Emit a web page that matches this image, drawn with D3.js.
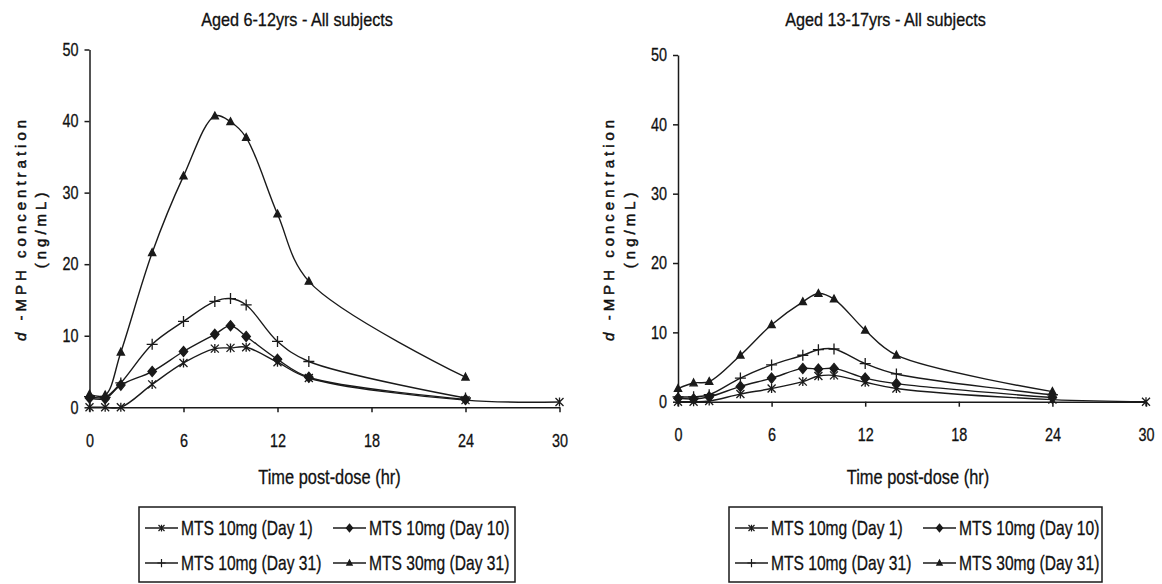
<!DOCTYPE html>
<html>
<head>
<meta charset="utf-8">
<script src="https://cdn.jsdelivr.net/npm/d3@7"></script>
<style>
  body { margin: 0; background: #fff; }
  svg { display: block; }
  text { font-family: "Liberation Sans", Arial, sans-serif; fill: #111; stroke: #111; stroke-width: 0.3px; }
</style>
</head>
<body>
<svg id="chart" width="1162" height="584"></svg>
<script>
// Sampling times (hours post-dose)
const hours = [0, 1, 2, 4, 6, 8, 9, 10, 12, 14, 24, 30];
const xTicks = [0, 6, 12, 18, 24, 30];
const yTicks = [0, 10, 20, 30, 40, 50];
const seriesNames = ["MTS 10mg (Day 1)", "MTS 10mg (Day 10)", "MTS 10mg (Day 31)", "MTS 30mg (Day 31)"];
const markerTypes = ["star", "diamond", "plus", "triangle"];
const panelTitles = ["Aged 6-12yrs - All subjects", "Aged 13-17yrs - All subjects"];

// Mean d-MPH concentration (ng/mL), aged 6-12 years
const child10mgDay1  = [0, 0, 0, 3.2, 6.2, 8.2, 8.3, 8.4, 6.3, 4.1, 1.0, 0.75];
const child10mgDay10 = [1.3, 1.2, 3.1, 5.0, 7.8, 10.2, 11.4, 9.9, 6.7, 4.2, 1.1];
const child10mgDay31 = [1.5, 1.4, 3.4, 8.8, 12.0, 14.8, 15.2, 14.3, 9.2, 6.4, 1.3];
const child30mgDay31 = [1.8, 1.7, 7.7, 21.6, 32.3, 40.7, 39.9, 37.7, 27.0, 17.6, 4.2];

// Mean d-MPH concentration (ng/mL), aged 13-17 years
const teen10mgDay1  = [0, 0, 0.1, 1.1, 1.9, 2.9, 3.7, 3.8, 2.8, 1.9, 0.3, 0];
const teen10mgDay10 = [0.5, 0.4, 0.7, 2.2, 3.4, 4.8, 4.7, 4.8, 3.4, 2.6, 0.6];
const teen10mgDay31 = [0.7, 0.7, 1.0, 3.4, 5.3, 6.7, 7.5, 7.6, 5.5, 4.0, 1.0];
const teen30mgDay31 = [1.9, 2.7, 2.9, 6.7, 11.1, 14.4, 15.6, 14.8, 10.3, 6.7, 1.45];

const panels = [
  { title: panelTitles[0], series: [child10mgDay1, child10mgDay10, child10mgDay31, child30mgDay31],
    x0: 89.5, x1: 559.5, yBottom: 407.3, yTop: 49.5, legendX: 139, legendW: 376 },
  { title: panelTitles[1], series: [teen10mgDay1, teen10mgDay10, teen10mgDay31, teen30mgDay31],
    x0: 678, x1: 1146, yBottom: 401.7, yTop: 55, legendX: 729, legendW: 373 }
];

const ink = "#1a1a1a";
const svg = d3.select("#chart");

// Condensed glyphs: horizontally squeeze a text element around its anchor
function squeeze(sel, sx) {
  sel.each(function () {
    const t = d3.select(this);
    const x = +(t.attr("x") || 0);
    t.attr("transform", `translate(${x},0) scale(${sx},1)`).attr("x", 0);
  });
}

function markerPath(type, s) {
  switch (type) {
    case "star":
      return `M${-4*s},${-4*s}L${4*s},${4*s}M${-4*s},${4*s}L${4*s},${-4*s}M0,${-4.5*s}V${4.5*s}`;
    case "diamond":
      return `M0,${-5*s}L${4.2*s},0L0,${5*s}L${-4.2*s},0Z`;
    case "plus":
      return `M${-5.5*s},0H${5.5*s}M0,${-5.5*s}V${5.5*s}`;
    case "triangle":
      return `M0,${-4*s}L${3.6*s},${2.8*s}L${-3.6*s},${2.8*s}Z`;
  }
}
function markerFilled(type) { return type === "diamond" || type === "triangle"; }

panels.forEach(p => {
  const x = d3.scaleLinear().domain([0, 30]).range([p.x0, p.x1]);
  const y = d3.scaleLinear().domain([0, 50]).range([p.yBottom, p.yTop]);
  const g = svg.append("g");

  // Title
  g.append("text")
    .attr("transform", `translate(${p.x0 + 207.5},26) scale(0.9,1)`)
    .attr("text-anchor", "middle")
    .style("font-size", "18px")
    .text(p.title);

  // Y axis
  const ya = g.append("g")
    .attr("transform", `translate(${p.x0},0)`)
    .call(d3.axisLeft(y).tickValues(yTicks).tickFormat(d3.format("d"))
      .tickSize(5).tickPadding(6).tickSizeOuter(0));
  ya.selectAll("path, line").attr("stroke", ink).attr("stroke-width", 1.5);
  ya.selectAll("text").style("font-size", "18px").attr("fill", ink).call(squeeze, 0.8);

  // X axis
  const xa = g.append("g")
    .attr("transform", `translate(0,${p.yBottom})`)
    .call(d3.axisBottom(x).tickValues(xTicks).tickFormat(d3.format("d"))
      .tickSize(5).tickPadding(22).tickSizeOuter(0));
  xa.selectAll("path, line").attr("stroke", ink).attr("stroke-width", 1.5);
  xa.selectAll("text").style("font-size", "18px").attr("fill", ink).call(squeeze, 0.8);

  // X axis title
  g.append("text")
    .attr("transform", `translate(${p.x0 + 240},484) scale(0.8,1)`)
    .attr("text-anchor", "middle")
    .style("font-size", "20.5px")
    .text("Time post-dose (hr)");

  // Y axis title (two lines, rotated)
  const yMid = (p.yBottom + p.yTop) / 2;
  const yt1 = g.append("text")
    .attr("transform", `translate(${p.x0 - 64},${yMid}) rotate(-90)`)
    .attr("text-anchor", "middle")
    .style("font-size", "15px")
    .style("letter-spacing", "4px")
    .style("stroke-width", "0.5px");
  yt1.append("tspan").style("font-style", "italic").text("d");
  yt1.append("tspan").text(" -MPH concentration");
  g.append("text")
    .attr("transform", `translate(${p.x0 - 43.5},${yMid}) rotate(-90)`)
    .attr("text-anchor", "middle")
    .style("font-size", "15px")
    .style("letter-spacing", "4px")
    .style("stroke-width", "0.5px")
    .text("(ng/mL)");

  // Series lines and markers
  const line = d3.line()
    .x(d => x(d.t)).y(d => y(d.v))
    .curve(d3.curveCatmullRom.alpha(0.5));

  p.series.forEach((vals, i) => {
    const pts = vals.map((v, k) => ({ t: hours[k], v }));
    g.append("path")
      .datum(pts)
      .attr("d", line)
      .attr("fill", "none")
      .attr("stroke", ink)
      .attr("stroke-width", 1.4);
    const type = markerTypes[i];
    g.selectAll(null)
      .data(pts)
      .join("path")
      .attr("transform", d => `translate(${x(d.t)},${y(d.v)})`)
      .attr("d", markerPath(type, 1))
      .attr("fill", markerFilled(type) ? ink : "none")
      .attr("stroke", ink)
      .attr("stroke-width", 1.3);
  });

  // Legend
  const lg = g.append("g").attr("transform", `translate(${p.legendX},507)`);
  lg.append("rect")
    .attr("x", 0).attr("y", 0)
    .attr("width", p.legendW).attr("height", 75)
    .attr("fill", "none").attr("stroke", ink).attr("stroke-width", 1.5);
  seriesNames.forEach((name, i) => {
    const col = i % 2, row = Math.floor(i / 2);
    const lx = col === 0 ? 6 : 194;
    const ly = row === 0 ? 21 : 56;
    const item = lg.append("g").attr("transform", `translate(${lx},${ly})`);
    item.append("line").attr("x1", 0).attr("x2", 33).attr("y1", 0).attr("y2", 0)
      .attr("stroke", ink).attr("stroke-width", 1.4);
    const type = markerTypes[i];
    item.append("path")
      .attr("transform", "translate(16.5,0)")
      .attr("d", markerPath(type, 0.75))
      .attr("fill", markerFilled(type) ? ink : "none")
      .attr("stroke", ink).attr("stroke-width", 1.2);
    item.append("text")
      .attr("transform", "translate(36,7) scale(0.78,1)")
      .style("font-size", "20px")
      .text(name);
  });
});
</script>
</body>
</html>
